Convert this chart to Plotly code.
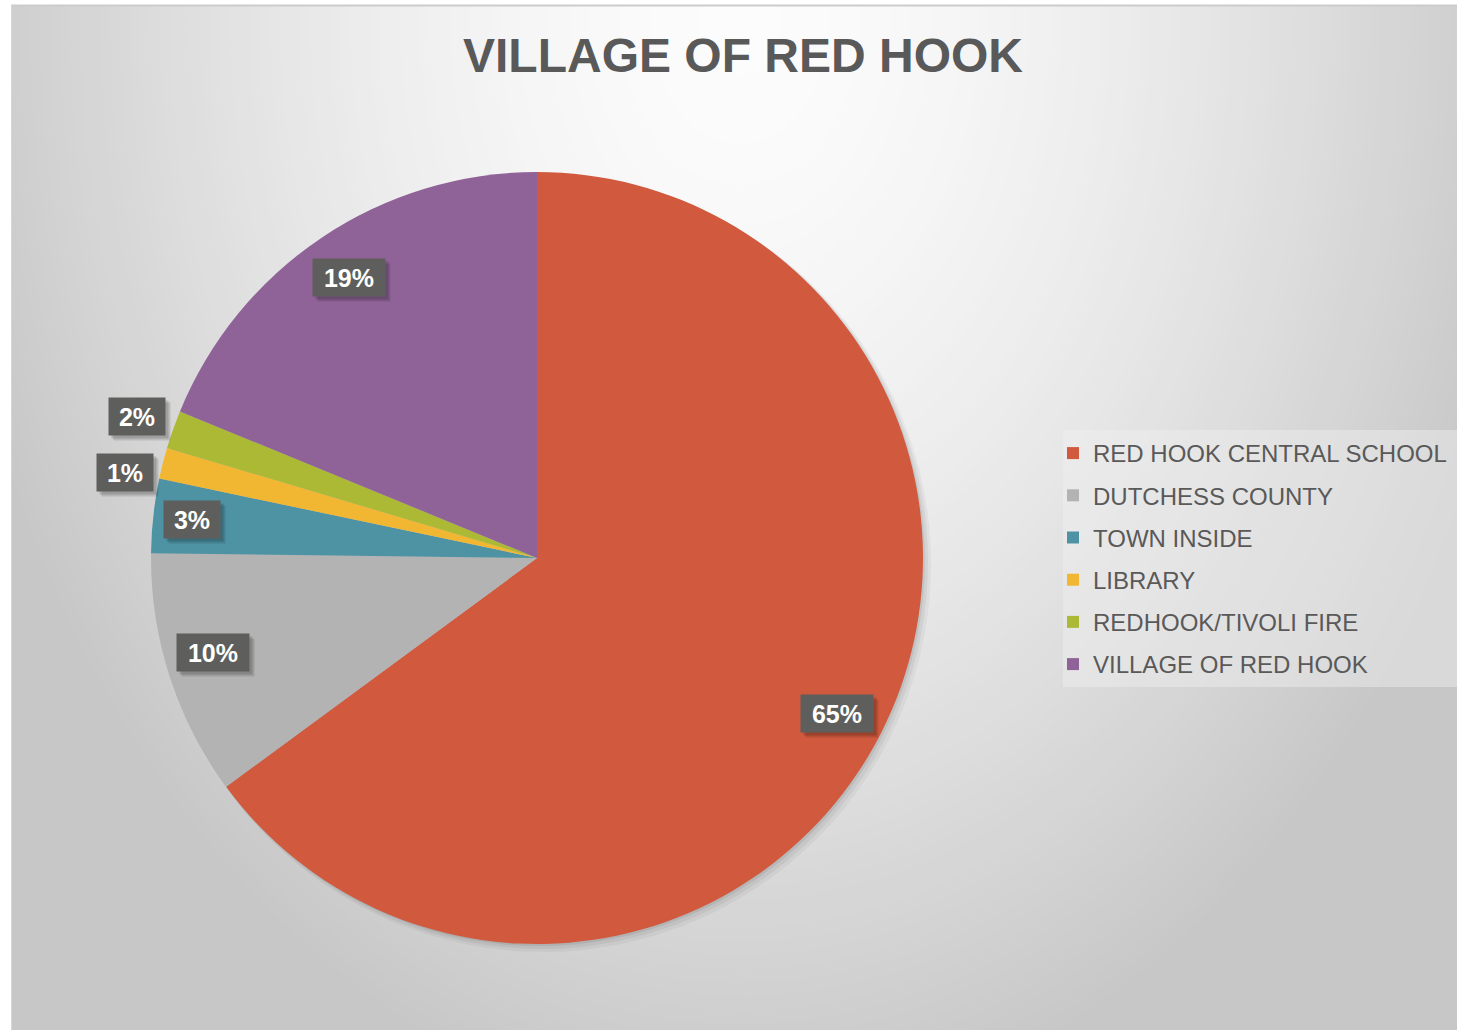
import math
import plotly.graph_objects as go

# ---------------- data ----------------
categories = ["RED HOOK CENTRAL SCHOOL", "DUTCHESS COUNTY", "TOWN INSIDE",
              "LIBRARY", "REDHOOK/TIVOLI FIRE", "VILLAGE OF RED HOOK"]
values = [64.9, 10.3, 3.1, 1.3, 1.6, 18.8]
colors = ["#D1593D", "#B3B3B3", "#4D93A4", "#F1B733", "#ACB935", "#8F6397"]
title_text = "VILLAGE OF RED HOOK"

# ---------------- layout helpers ----------------
W, H = 1457, 1030
FONT = "Liberation Sans, Arial, sans-serif"
TXT = "#595959"


def px(x):
    return x / W


def py(y):
    return 1 - y / H


# pie geometry (pixels)
CX, CY, R = 537, 558, 386
# radial position / angular nudge of each data label (style only)
label_radius = [0.875, 0.875, 0.90, 1.09, 1.10, 0.875]
label_nudge_deg = [0.5, 1.6, 0, -2.5, 0, 0]

fig = go.Figure()

fig.add_trace(go.Pie(
    labels=categories, values=values, sort=False, direction="clockwise",
    rotation=0, marker=dict(colors=colors, line=dict(width=0)),
    textinfo="none", hoverinfo="label+percent", showlegend=False,
    domain=dict(x=[px(CX - R), px(CX + R)], y=[py(CY + R), py(CY - R)]),
))

# legend entries (one group each, to control spacing)
for i, (c, col) in enumerate(zip(categories, colors)):
    fig.add_trace(go.Scatter(
        x=[None], y=[None], mode="markers", name=c, legendgroup=f"g{i}",
        marker=dict(symbol="square", size=12, color=col), hoverinfo="skip",
    ))

shapes = []
# chart area base
BASE = 199
shapes.append(dict(type="rect", xref="paper", yref="paper", x0=px(11), x1=px(W + 5),
                   y0=py(H + 5), y1=py(6), fillcolor=f"rgb({BASE},{BASE},{BASE})",
                   line=dict(width=0), layer="below"))
# radial background gradient (opaque concentric ellipses)
n = 80
gcx, gcy, grx, gry = 740, 20, 800, 1100
for k in range(n, 0, -1):
    d = (k - 0.5) / n
    g = round(BASE + 53 * (1 - d ** 1.6))
    s = k / n
    shapes.append(dict(type="circle", xref="paper", yref="paper",
                       x0=px(gcx - grx * s), x1=px(gcx + grx * s),
                       y0=py(gcy + gry * s), y1=py(gcy - gry * s),
                       fillcolor=f"rgb({g},{g},{g})", line=dict(width=0),
                       layer="below"))
# white margin strips outside the chart frame
shapes.append(dict(type="rect", xref="paper", yref="paper", x0=0, x1=px(11),
                   y0=0, y1=1, fillcolor="white", line=dict(width=0), layer="below"))
shapes.append(dict(type="rect", xref="paper", yref="paper", x0=0, x1=1,
                   y0=py(5), y1=1, fillcolor="white", line=dict(width=0), layer="below"))
# top border of chart frame
shapes.append(dict(type="line", xref="paper", yref="paper", x0=px(11), x1=px(W + 5),
                   y0=py(5.5), y1=py(5.5), line=dict(color="#cccccc", width=2),
                   layer="below"))
# left border
shapes.append(dict(type="line", xref="paper", yref="paper", x0=px(11.5), x1=px(11.5),
                   y0=py(H + 5), y1=py(5), line=dict(color="#d6d6d6", width=1),
                   layer="below"))
# legend background
shapes.append(dict(type="rect", xref="paper", yref="paper", x0=px(1063), x1=px(W + 5),
                   y0=py(687), y1=py(430), fillcolor="rgba(240,240,240,0.45)",
                   line=dict(width=0), layer="below"))
# soft pie shadow
for off, rr, op in [(6, R + 2, 0.04), (4, R + 1, 0.05), (2, R, 0.07)]:
    shapes.append(dict(type="circle", xref="paper", yref="paper",
                       x0=px(CX + off - rr), x1=px(CX + off + rr),
                       y0=py(CY + off + rr), y1=py(CY + off - rr),
                       fillcolor="black", opacity=op, line=dict(width=0),
                       layer="below"))

# data labels positioned from the data (mid-angle of each slice)
total = sum(values)
annotations = []
cum = 0.0
for v, rf, nd in zip(values, label_radius, label_nudge_deg):
    mid = (cum + v / 2) / total * 2 * math.pi + math.radians(nd)
    cum += v
    lx = CX + rf * R * math.sin(mid)
    ly = CY - rf * R * math.cos(mid)
    pct = round(v / total * 100)
    box_w = 64 if pct >= 10 else 48
    common = dict(x=px(lx), y=py(ly), xref="paper", yref="paper",
                  showarrow=False, xanchor="center", yanchor="middle",
                  borderpad=4, width=box_w, height=29, align="center", valign="middle")
    # soft drop shadow (blank boxes)
    annotations.append(dict(**common, text="&nbsp;",
                            font=dict(family=FONT, size=25, color="rgba(0,0,0,0)"),
                            bgcolor="rgba(0,0,0,0.12)", xshift=5, yshift=-5))
    annotations.append(dict(**common, text="&nbsp;",
                            font=dict(family=FONT, size=25, color="rgba(0,0,0,0)"),
                            bgcolor="rgba(0,0,0,0.15)", xshift=3, yshift=-3))
    annotations.append(dict(**common, text=f"<b>{pct}%</b>",
                            font=dict(family=FONT, size=25, color="white"),
                            bgcolor="#5e5f5c"))

fig.update_layout(
    width=W, height=H, margin=dict(l=0, r=0, t=0, b=0),
    paper_bgcolor="white", plot_bgcolor="rgba(0,0,0,0)",
    title=dict(text=f"<b>{title_text}</b>", x=px(743), xanchor="center",
               y=py(55), yanchor="middle",
               font=dict(family=FONT, size=48, color=TXT)),
    xaxis=dict(visible=False), yaxis=dict(visible=False),
    legend=dict(x=px(1053), xanchor="left", y=py(431), yanchor="top",
                bgcolor="rgba(0,0,0,0)", traceorder="grouped", tracegroupgap=8,
                font=dict(family=FONT, size=24, color=TXT)),
    shapes=shapes, annotations=annotations,
)

fig.write_html("out.html")
